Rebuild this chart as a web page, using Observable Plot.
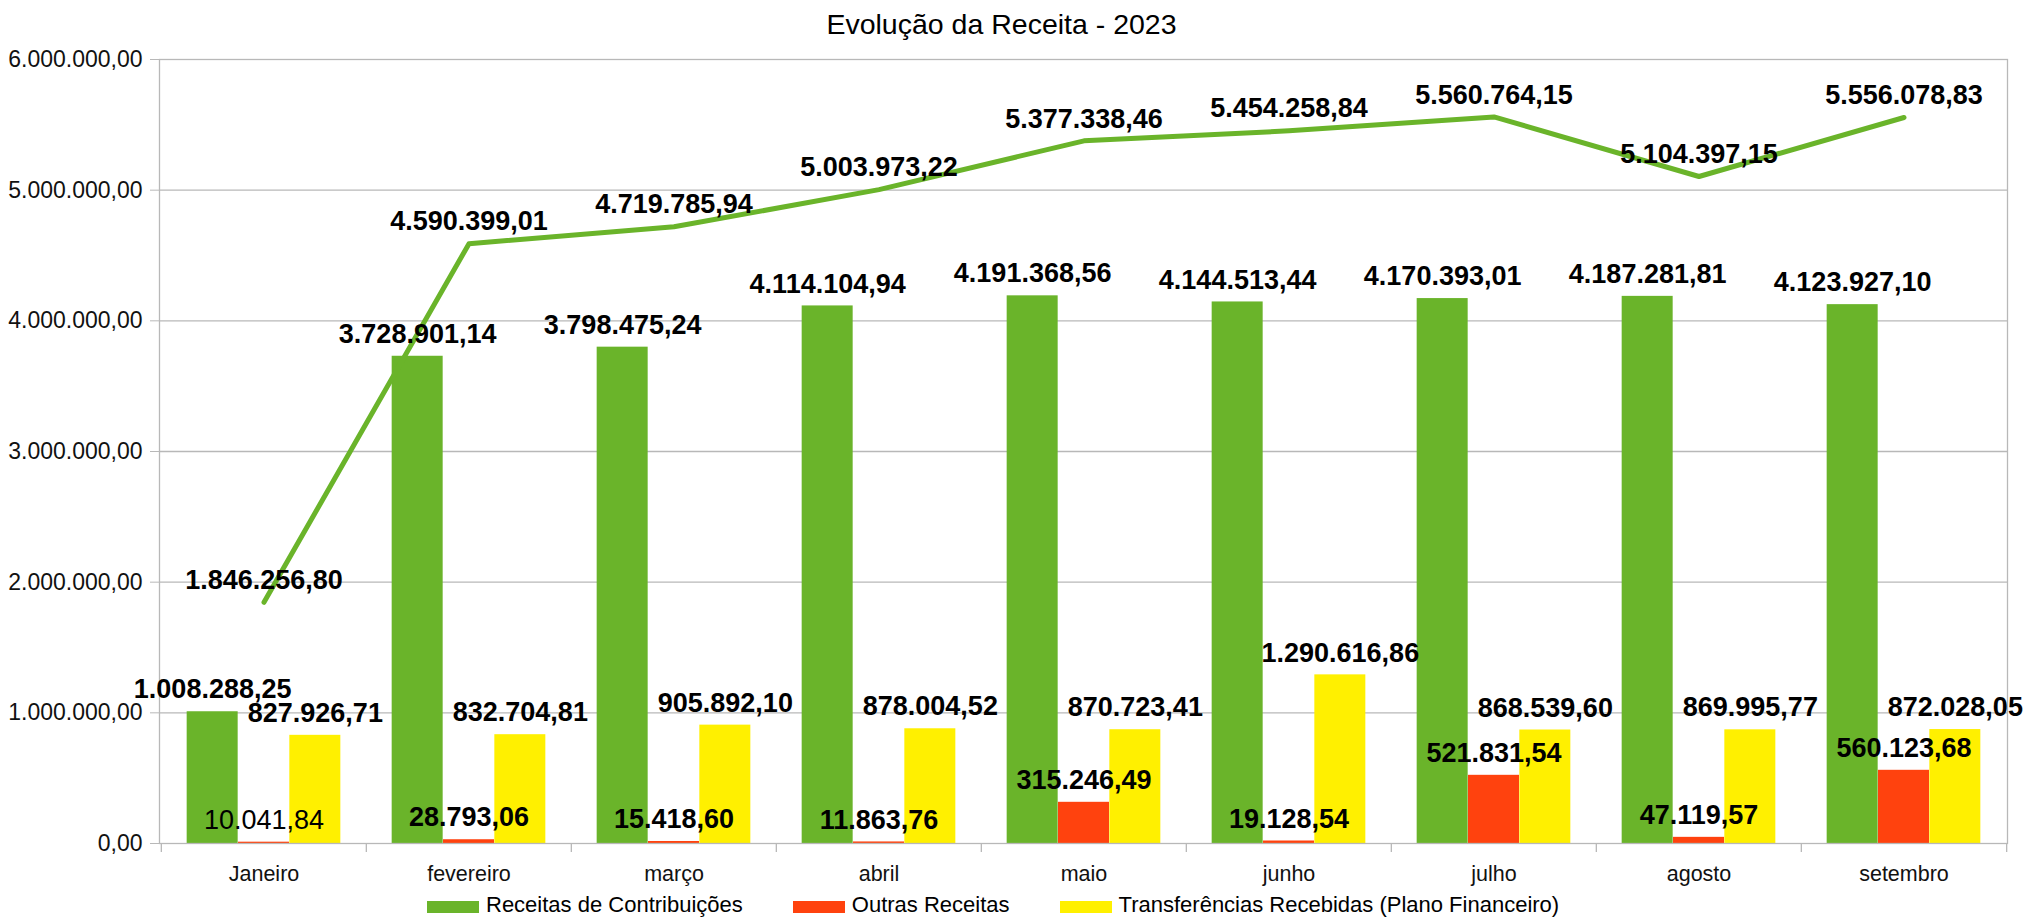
<!DOCTYPE html>
<html><head><meta charset="utf-8">
<script src="https://cdn.jsdelivr.net/npm/d3@7"></script>
<script src="https://cdn.jsdelivr.net/npm/@observablehq/plot@0.6"></script>
<style>
html,body{margin:0;padding:0;background:#fff;}
body{width:2030px;height:918px;position:relative;overflow:hidden;font-family:"Liberation Sans",Arial,sans-serif;}
#title{position:absolute;left:0;top:10px;width:2003px;text-align:center;font-size:28.5px;line-height:28.5px;color:#000;white-space:nowrap;}
#chart{position:absolute;left:0;top:40px;}
#legend{position:absolute;left:427px;top:894px;display:flex;align-items:center;font-size:22px;line-height:22px;color:#000;white-space:nowrap;}
.item{display:flex;align-items:center;margin-right:50px;}
.sw{width:52px;height:12px;margin-right:7px;position:relative;top:2px;}
</style></head><body>
<div id="title">Evolução da Receita - 2023</div>
<div id="chart"></div>
<div id="legend"></div>
<script>
const months = ["Janeiro","fevereiro","março","abril","maio","junho","julho","agosto","setembro"];
const contribuicoes = [1008288.25, 3728901.14, 3798475.24, 4114104.94, 4191368.56, 4144513.44, 4170393.01, 4187281.81, 4123927.10];
const outras = [10041.84, 28793.06, 15418.60, 11863.76, 315246.49, 19128.54, 521831.54, 47119.57, 560123.68];
const transferencias = [827926.71, 832704.81, 905892.10, 878004.52, 870723.41, 1290616.86, 868539.60, 869995.77, 872028.05];
const totais = [1846256.80, 4590399.01, 4719785.94, 5003973.22, 5377338.46, 5454258.84, 5560764.15, 5104397.15, 5556078.83];
const yTicks = [0, 1000000, 2000000, 3000000, 4000000, 5000000, 6000000];
const seriesNames = ["Receitas de Contribuições", "Outras Receitas", "Transferências Recebidas (Plano Financeiro)"];
const colors = ["#6ab42a", "#ff420e", "#fff000"];
const grid = "#b8b8b8";

const W = 2030, H = 850, mL = 159, mR = 23, mT = 19, mB = 47;
const bw = (W - mL - mR) / months.length;
const fmt = d3.formatLocale({decimal: ",", thousands: ".", grouping: [3], currency: ["R$ ", ""]}).format(",.2f");
const rows = months.map((m, i) => ({month: m, g: contribuicoes[i], r: outras[i], t: transferencias[i], total: totais[i]}));

const lbl = {fontSize: 27, fontWeight: "bold", fill: "#000", dy: -22};

const chart = Plot.plot({
  width: W, height: H,
  marginLeft: mL, marginRight: mR, marginTop: mT, marginBottom: mB,
  style: {fontFamily: "'Liberation Sans', Arial, sans-serif", background: "#fff", color: "#000", overflow: "visible"},
  x: {type: "band", domain: months, padding: 0, axis: null, label: null},
  y: {domain: [0, 6000000], axis: null, label: null},
  marks: [
    Plot.ruleY(yTicks.slice(1, -1), {stroke: grid, strokeWidth: 1.3}),
    Plot.barY(rows, {x: "month", y: "g", fill: colors[0], insetLeft: bw / 8, insetRight: 5 * bw / 8}),
    Plot.barY(rows, {x: "month", y: "r", fill: colors[1], insetLeft: 3 * bw / 8, insetRight: 3 * bw / 8}),
    Plot.barY(rows, {x: "month", y: "t", fill: colors[2], insetLeft: 5 * bw / 8, insetRight: bw / 8}),
    Plot.frame({stroke: grid, strokeWidth: 1.3}),
    Plot.ruleX(months, {x: d => d, dx: -bw / 2, y1: 0, y2: 0, insetBottom: -9, stroke: grid, strokeWidth: 1.3}),
    Plot.ruleX(months.slice(-1), {x: d => d, dx: bw / 2, y1: 0, y2: 0, insetBottom: -9, stroke: grid, strokeWidth: 1.3}),
    Plot.axisY({ticks: yTicks, tickFormat: fmt, tickSize: 9, tickPadding: 8, stroke: grid, fill: "#111", fontSize: 23, label: null}),
    Plot.axisX({tickSize: 0, tickPadding: 22, fill: "#111", fontSize: 21.5, label: null}),
    Plot.line(rows, {x: "month", y: "total", stroke: colors[0], strokeWidth: 5}),
    Plot.text(rows, {x: "month", y: "g", text: d => fmt(d.g), dx: -bw / 4, ...lbl}),
    Plot.text(rows.slice(0, 1), {x: "month", y: "r", text: d => fmt(d.r), ...lbl, fontWeight: "normal"}),
    Plot.text(rows.slice(1), {x: "month", y: "r", text: d => fmt(d.r), ...lbl}),
    Plot.text(rows, {x: "month", y: "t", text: d => fmt(d.t), dx: bw / 4, ...lbl}),
    Plot.text(rows, {x: "month", y: "total", text: d => fmt(d.total), ...lbl})
  ]
});
document.getElementById("chart").appendChild(chart);

const legend = document.getElementById("legend");
seriesNames.forEach((name, i) => {
  const item = document.createElement("div");
  item.className = "item";
  const sw = document.createElement("div");
  sw.className = "sw";
  sw.style.background = colors[i];
  const tx = document.createElement("span");
  tx.textContent = name;
  item.appendChild(sw);
  item.appendChild(tx);
  legend.appendChild(item);
});
</script>
</body></html>
